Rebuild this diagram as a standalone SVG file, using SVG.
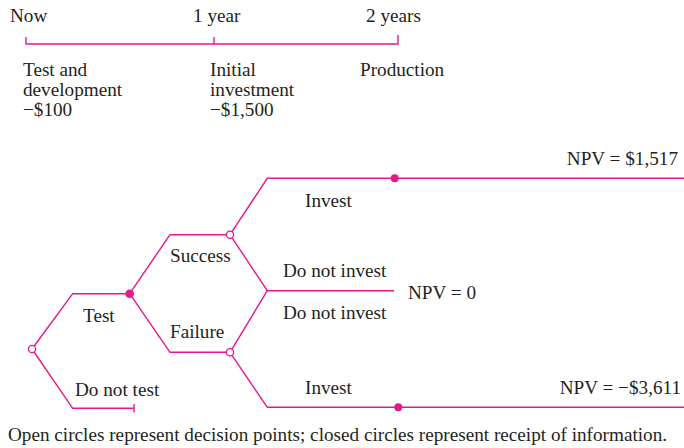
<svg xmlns="http://www.w3.org/2000/svg" width="684" height="448" viewBox="0 0 684 448">
<style>
text{font-family:"Liberation Serif","Times New Roman",serif;font-size:19.2px;fill:#231f20}
.ln{fill:none;stroke:#e8178a;stroke-width:1.4}
.open{fill:#fff;stroke:#e8178a;stroke-width:1.3}
.closed{fill:#e8178a;stroke:none}
</style>
<rect width="684" height="448" fill="#fff"/>
<g id="timeline">
<path class="ln" d="M26,37 V44 H398 V35 M214,37 V44"/>
<text x="10" y="22">Now</text>
<text x="193" y="22">1 year</text>
<text x="366" y="22">2 years</text>
<text x="23" y="76">Test and</text>
<text x="23" y="96">development</text>
<text x="23" y="116">−$100</text>
<text x="210" y="76">Initial</text>
<text x="210" y="96">investment</text>
<text x="210" y="116">−$1,500</text>
<text x="360" y="76">Production</text>
</g>
<g id="connectors">
<path class="ln" d="M32,349 L72.7,293.7 H129.7"/>
<path class="ln" d="M32,349 L72.7,408.3 H134 M134,404 V412.5"/>
<path class="ln" d="M129.7,293.7 L170,234.7 H230"/>
<path class="ln" d="M129.7,293.7 L170,352.3 H230"/>
<path class="ln" d="M230,234.7 L267.3,178.3 H684"/>
<path class="ln" d="M230,234.7 L267.3,290.7 H394"/>
<path class="ln" d="M230,352.3 L267.3,290.7"/>
<path class="ln" d="M230,352.3 L267.3,407.3 H684"/>
</g>
<g id="root"><circle class="open" cx="32" cy="349" r="3.6"/></g>
<g id="test-info"><circle class="closed" cx="129.7" cy="293.7" r="4.3"/></g>
<g id="success-decision"><circle class="open" cx="230" cy="234.7" r="3.6"/></g>
<g id="failure-decision"><circle class="open" cx="230" cy="352.3" r="3.6"/></g>
<g id="invest-top"><circle class="closed" cx="394.7" cy="178.3" r="4"/></g>
<g id="invest-bottom"><circle class="closed" cx="398.3" cy="407.3" r="4"/></g>
<g id="labels">
<text x="83" y="322">Test</text>
<text x="75" y="396">Do not test</text>
<text x="170" y="262">Success</text>
<text x="170" y="338">Failure</text>
<text x="305" y="207">Invest</text>
<text x="283" y="277">Do not invest</text>
<text x="283" y="318.5">Do not invest</text>
<text x="305" y="394">Invest</text>
<text x="408" y="298.5">NPV = 0</text>
<text x="678" y="165" text-anchor="end">NPV = $1,517</text>
<text x="681" y="394" text-anchor="end">NPV = −$3,611</text>
<text x="8" y="441">Open circles represent decision points; closed circles represent receipt of information.</text>
</g>
</svg>
